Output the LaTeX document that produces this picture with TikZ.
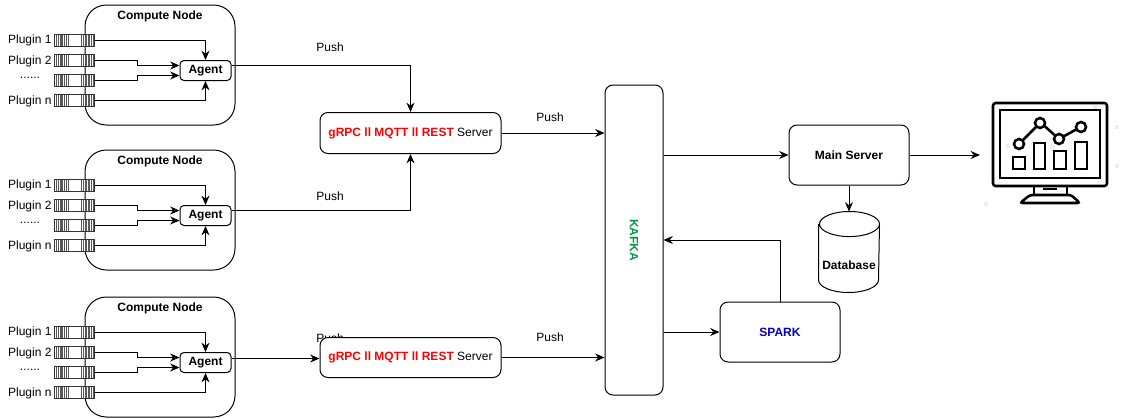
\documentclass[tikz,border=0pt]{standalone}
\usepackage{fontspec}
\setmainfont{Liberation Sans}
\usetikzlibrary{arrows.meta,calc}
\definecolor{kafkagreen}{rgb}{0.00000,0.60000,0.30000}
\definecolor{sparkblue}{rgb}{0.00000,0.00000,0.80000}
\definecolor{markgray}{rgb}{0.93000,0.93000,0.93000}
\tikzset{
  lbl/.style={font=\fontsize{9}{10}\selectfont, inner sep=0pt},
  boldlbl/.style={lbl, font=\fontsize{9}{10}\selectfont\bfseries},
  box/.style={draw, fill=white, rounded corners=6pt, inner sep=0pt, font=\fontsize{9}{10}\selectfont},
  conn/.style={-{Stealth[length=7pt,width=6pt]}},
  rackunit/.style={draw=black!80, fill=white, inner sep=0pt, minimum width=30pt, minimum height=9pt, path picture={
    \foreach \rx in {1.5,3,4,5,6,7,9,10.5,20,21.5,23,24,25,26,27.5,29}
      \draw[line width=0.3pt, black!65] ([xshift=\rx pt]path picture bounding box.south west) -- ([xshift=\rx pt]path picture bounding box.north west);
    \fill ([xshift=16pt,yshift=1pt]path picture bounding box.south west) rectangle ++(1.5pt,1.5pt);
  }},
}
\begin{document}
\begin{tikzpicture}[x=0.75pt,y=-0.75pt,line width=0.75pt]
\useasboundingbox (0,0) rectangle (1121,418);
% compute nodes
\foreach \n/\dy in {1/0,2/145,3/292} {
  \node[box, rounded corners=16pt, minimum width=112.5pt, minimum height=90pt] (comp\n) at (160,65+\dy) {};
  \node[boldlbl] (title\n) at (160,16+\dy) {Compute Node};
  \node[box, rounded corners=3pt, minimum width=38.25pt, minimum height=15pt] (agent\n) at (205.5,70.5+\dy) {\bfseries Agent};
  \node[rackunit] (plugA\n) at (74.5,40+\dy) {};
  \node[rackunit] (plugB\n) at (74.5,60+\dy) {};
  \node[rackunit] (plugC\n) at (74.5,80+\dy) {};
  \node[rackunit] (plugD\n) at (74.5,100+\dy) {};
  \node[lbl, anchor=east] (nameA\n) at (52,40.5+\dy) {Plugin 1};
  \node[lbl, anchor=east] (nameB\n) at (52,61+\dy) {Plugin 2};
  \node[lbl] (nameC\n) at (30,78+\dy) {......};
  \node[lbl, anchor=east] (nameD\n) at (52,101+\dy) {Plugin n};
  \draw[conn] (plugA\n.east) -| (agent\n.north);
  \draw[conn] (plugB\n.east) -- ++(42,0) |- ([yshift=3.75pt]agent\n.west);
  \draw[conn] (plugC\n.east) -- ++(42,0) |- ([yshift=-3.75pt]agent\n.west);
  \draw[conn] (plugD\n.east) -| (agent\n.south);
}
% labels under the boxes
\node[lbl] (pushA) at (330,47) {Push};
\node[lbl] (pushB) at (330,196) {Push};
\node[lbl] (pushC) at (330,338) {Push};
\node[lbl] (pushD) at (550,117) {Push};
\node[lbl] (pushE) at (550,337) {Push};
% servers
\node[box, minimum width=135.75pt, minimum height=30.75pt] (servA) at (410.5,133) {\textcolor{red}{\bfseries gRPC ll MQTT ll REST} Server};
\node[box, minimum width=135.75pt, minimum height=30pt] (servB) at (410.5,357.5) {\textcolor{red}{\bfseries gRPC ll MQTT ll REST} Server};
\node[box, minimum width=43.5pt, minimum height=232.5pt] (kafka) at (634,240) {\rotatebox{-90}{\textcolor{kafkagreen}{\bfseries KAFKA}}};
\node[box, minimum width=90pt, minimum height=45pt] (main) at (849,155) {\bfseries Main Server};
\node[box, minimum width=90pt, minimum height=45pt] (spark) at (780,332) {\textcolor{sparkblue}{\bfseries SPARK}};
% database
\node[inner sep=0pt, minimum width=45pt, minimum height=60pt] (db) at (849,252) {};
\draw[fill=white] (db.north west) ++(0,-9.4pt) -- ($(db.south west)+(0,9.4pt)$) arc[start angle=180, end angle=360, x radius=22.5pt, y radius=9.4pt] -- ($(db.north east)+(0,-9.4pt)$) arc[start angle=0, end angle=180, x radius=22.5pt, y radius=9.4pt] arc[start angle=180, end angle=360, x radius=22.5pt, y radius=9.4pt];
\node[boldlbl] (dbname) at (849,265) {Database};
% connectors
\coordinate (screen) at (980,155);
\draw[conn] ([yshift=3.75pt]agent1.east) -| (servA.north);
\draw[conn] ([yshift=3.75pt]agent2.east) -| (servA.south);
\draw[conn] ([yshift=3pt]agent3.east) -- (servB.west |- {$(agent3.east)+(0,-4)$});
\draw[conn] (servA.east) -- (kafka.west |- servA.east);
\draw[conn] (servB.east) -- (kafka.west |- servB.east);
\draw[conn] (kafka.east |- main.west) -- (main.west);
\draw[conn] (main.east) -- (screen);
\draw[conn] (main.south) -- (db.north);
\draw[conn] (spark.north) |- (kafka.east);
\draw[conn] (kafka.east |- spark.west) -- (spark.west);
% monitor
\foreach \mx/\my in {1117/127,1117/166,986/204,1008/146,1095/107,1052/146} \fill[markgray] (\mx-2,\my-2) rectangle (\mx+2,\my+2);
\draw[line width=1.9pt, rounded corners=2pt] (993,103) rectangle (1107,186);
\draw[line width=1.9pt] (1000,110) rectangle (1100,178);
\draw[line width=1.9pt] (1034,186) -- (1034,195) (1067,186) -- (1067,195);
\draw[line width=1.9pt, rounded corners=2pt] (1020,203) -- (1080,203) -- (1071,195) -- (1030,195) -- cycle;
\draw[line width=1.4pt] (1043,189) -- (1057,189);
\foreach \bl/\bt/\br in {1013/157/1025,1034/143/1045,1054/151/1066,1075/142/1087} \draw[line width=1.9pt] (\bl,\bt) rectangle (\br,169);
\draw[line width=1.9pt] (1019,144) circle (3.75pt) (1040,123) circle (3.75pt) (1059,139) circle (3.75pt) (1081,127) circle (3.75pt);
\draw[line width=1.9pt] (1023,140) -- (1036,127) (1044.5,126) -- (1055,135.5) (1063.5,136.5) -- (1076,129.5);
\end{tikzpicture}
\end{document}
